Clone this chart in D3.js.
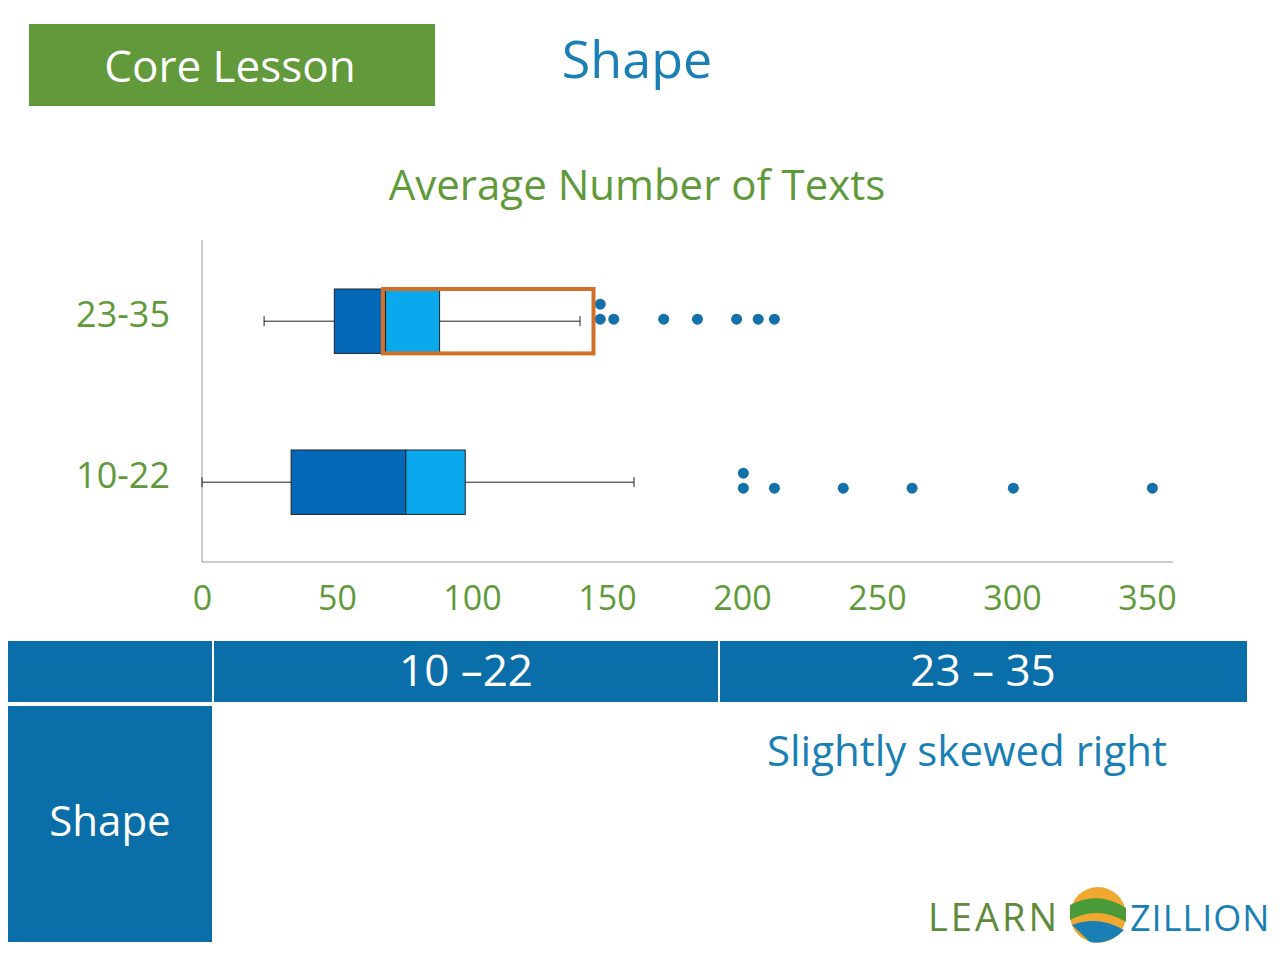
<!DOCTYPE html>
<html><head><meta charset="utf-8">
<script src="https://cdn.jsdelivr.net/npm/d3@7"></script>
<style>body{margin:0;background:#fff}svg{display:block}</style>
</head><body>
<svg id="c" width="1280" height="960"></svg>
<script>
// data
const groups = ["23-35", "10-22"];
const mins = [23, 0];
const q1s = [49, 33];
const medians = [68, 75.5];
const q3s = [88, 97.5];
const maxs = [140, 160];
const outliers = [
  [[147.5, 1], [147.5, 0], [152.5, 0], [171, 0], [183.5, 0], [198, 0], [206, 0], [212, 0]],
  [[200.5, 1], [200.5, 0], [212, 0], [237.5, 0], [263, 0], [300.5, 0], [352, 0]]
];
const highlight = [67, 145];
const xTicks = [0, 50, 100, 150, 200, 250, 300, 350];
const tableCols = ["10 \u201322", "23 \u2013 35"];

const font = "'Open Sans', Lato, sans-serif";
const green = "#5f9a3a", blue = "#0a6ea8", dark = "#0368b8", light = "#0aa8ec";
const svg = d3.select("#c");

svg.append("rect").attr("x", 29).attr("y", 24).attr("width", 406).attr("height", 82).attr("fill", "#62993a");
svg.append("text").attr("x", 230).attr("y", 82).attr("text-anchor", "middle").attr("fill", "#fff")
  .attr("font-family", font).attr("font-size", 44).text("Core Lesson");
svg.append("text").attr("x", 637).attr("y", 78).attr("text-anchor", "middle").attr("fill", "#1a7fb5")
  .attr("font-family", font).attr("font-size", 52).text("Shape");
svg.append("text").attr("x", 637).attr("y", 200).attr("text-anchor", "middle").attr("fill", green)
  .attr("font-family", font).attr("font-size", 42).text("Average Number of Texts");

const x = d3.scaleLinear().domain([0, 350]).range([202, 1147]);
const y = d3.scaleBand().domain(groups).range([208.5, 594.9]).paddingInner(0.6).paddingOuter(0.5);

svg.append("line").attr("x1", 202).attr("x2", 202).attr("y1", 240).attr("y2", 562).attr("stroke", "#999");
const ax = svg.append("g").attr("transform", "translate(0,562)")
  .call(d3.axisBottom(x).tickValues(xTicks).tickSize(0).tickPadding(24));
ax.select(".domain").attr("stroke", "#999").attr("d", "M202,0H1173");
ax.selectAll("text").attr("fill", green).attr("font-family", font).attr("font-size", 34);

groups.forEach((g, i) => {
  const top = y(g), h = y.bandwidth(), cy = top + h / 2;
  const row = svg.append("g");
  row.append("text").attr("x", 170).attr("y", cy + 6).attr("text-anchor", "end").attr("fill", green)
    .attr("font-family", font).attr("font-size", 36).text(g);
  row.append("line").attr("x1", x(mins[i])).attr("x2", x(maxs[i])).attr("y1", cy).attr("y2", cy).attr("stroke", "#222");
  [mins[i], maxs[i]].forEach(v => row.append("line").attr("x1", x(v)).attr("x2", x(v))
    .attr("y1", cy - 5).attr("y2", cy + 5).attr("stroke", "#222"));
  row.append("rect").attr("x", x(q1s[i])).attr("y", top).attr("width", x(medians[i]) - x(q1s[i]))
    .attr("height", h).attr("fill", dark).attr("stroke", "#222");
  row.append("rect").attr("x", x(medians[i])).attr("y", top).attr("width", x(q3s[i]) - x(medians[i]))
    .attr("height", h).attr("fill", light).attr("stroke", "#222");
  const base = i === 0 ? cy - 2 : cy + 6;
  row.selectAll("circle").data(outliers[i]).join("circle")
    .attr("cx", d => x(d[0])).attr("cy", d => base - d[1] * 15).attr("r", 5.5).attr("fill", "#1370a8");
  if (i === 0) {
    row.append("rect").attr("x", x(highlight[0])).attr("y", top).attr("width", x(highlight[1]) - x(highlight[0]))
      .attr("height", h).attr("fill", "none").attr("stroke", "#d0702a").attr("stroke-width", 4);
  }
});

// table
const tb = svg.append("g");
tb.append("rect").attr("x", 8).attr("y", 641).attr("width", 1239).attr("height", 61).attr("fill", blue);
[212, 718].forEach(v => tb.append("line").attr("x1", v + 1).attr("x2", v + 1).attr("y1", 641).attr("y2", 702)
  .attr("stroke", "#fff").attr("stroke-width", 2));
tb.append("rect").attr("x", 8).attr("y", 706).attr("width", 204).attr("height", 236).attr("fill", blue);
tableCols.forEach((t, i) => tb.append("text").attr("x", i ? 983 : 466).attr("y", 686).attr("text-anchor", "middle")
  .attr("fill", "#fff").attr("font-family", font).attr("font-size", 44).text(t));
tb.append("text").attr("x", 110).attr("y", 836).attr("text-anchor", "middle").attr("fill", "#fff")
  .attr("font-family", font).attr("font-size", 42).text("Shape");
tb.append("text").attr("x", 967).attr("y", 766).attr("text-anchor", "middle").attr("fill", "#1a7fb5")
  .attr("font-family", font).attr("font-size", 42).text("Slightly skewed right");

// logo
const lg = svg.append("g");
lg.append("text").attr("x", 928).attr("y", 931).attr("fill", "#5f8a3a").attr("font-family", font)
  .attr("font-size", 38).attr("letter-spacing", 3).text("LEARN");
lg.append("circle").attr("cx", 1098).attr("cy", 915).attr("r", 28).attr("fill", "#f0a830");
lg.append("path").attr("d", "M1070,905 Q1098,890 1126,908 L1126,922 Q1098,905 1070,920Z").attr("fill", "#4a9a3a");
lg.append("path").attr("d", "M1072,925 Q1098,915 1124,930 Q1110,945 1090,942Z").attr("fill", "#1a7fb5");
lg.append("text").attr("x", 1130).attr("y", 931).attr("fill", "#1a7fb5").attr("font-family", font)
  .attr("font-size", 36).attr("letter-spacing", 1).text("ZILLION");
</script>
</body></html>
